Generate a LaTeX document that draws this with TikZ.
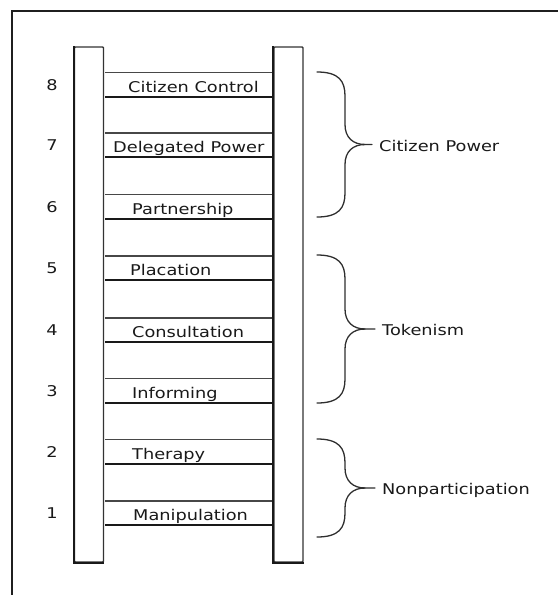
\documentclass[tikz,border=0pt]{standalone}
\usepackage{fontspec}
\setmainfont{DejaVu Sans}
\newcommand\wtxt[1]{\scalebox{1.2}[1]{#1}}
\begin{document}
\begin{tikzpicture}[x=1pt,y=-1pt,
  lab/.style={font=\fontsize{14.8}{16}\selectfont, text=black!90, inner sep=0pt, anchor=base west},
  num/.style={font=\fontsize{14.8}{16}\selectfont, text=black!90, inner sep=0pt, anchor=base},
  rail/.style={draw=black!80, line width=1.4pt, fill=white, rounded corners=0.8pt, inner sep=0pt, minimum width=29pt, minimum height=515pt},
  rungtop/.style={draw=black!72, line width=1.5pt},
  rungbot/.style={draw=black!90, line width=1.8pt},
  brace/.style={draw=black!82, line width=1.3pt, line cap=round}]
\useasboundingbox (0,0) rectangle (558,595);
\draw[line width=2pt, black!88] (11.5,595) -- (11.5,10.5) -- (558,10.5);
% rails
\node[rail] (lrail) at (89,304.5) {};
\node[rail] (rrail) at (288.5,304.5) {};
\draw[black!90, line width=2.2pt] (lrail.north west) -- (lrail.south west) -- (lrail.south east);
\draw[black!90, line width=2.2pt] (rrail.north west) -- (rrail.south west) -- (rrail.south east);
% rungs
\foreach \c/\n/\t/\lx in {84.5/8/Citizen Control/128, 145/7/Delegated Power/113, 206.5/6/Partnership/132, 268/5/Placation/130, 330/4/Consultation/132, 390.5/3/Informing/132, 451.5/2/Therapy/132, 513/1/Manipulation/133}{
  \coordinate (a\n) at (0,\c-12.2);
  \coordinate (b\n) at (0,\c+12.2);
  \draw[rungtop] ([xshift=1pt]lrail.east |- a\n) -- ([xshift=-1pt]rrail.west |- a\n);
  \draw[rungbot] ([xshift=1pt]lrail.east |- b\n) -- ([xshift=-1pt]rrail.west |- b\n);
  \node[lab] (t\n) at (\lx,\c+7.5) {\wtxt{\t}};
  \node[num] (n\n) at (52,\c+5.5) {\wtxt{\n}};
}
% braces
\newcommand\ladderbrace[5]{%
  \pgfmathsetmacro\mid{(#1+#2)/2}%
  \draw[brace] (317,#1) .. controls (339,#1) and (345,#1+9) .. (345,#1+24)
    -- (345,\mid-20) .. controls (345,\mid-7) and (353,\mid) .. (365,\mid) -- (#3,\mid);
  \draw[brace] (317,#2) .. controls (339,#2) and (345,#2-9) .. (345,#2-24)
    -- (345,\mid+20) .. controls (345,\mid+7) and (353,\mid) .. (365,\mid);
  \node[lab] (#5) at (#3+7,\mid+6.5) {\wtxt{#4}};
}
\ladderbrace{72}{217}{372}{Citizen Power}{cp}
\ladderbrace{255}{403}{375}{Tokenism}{tk}
\ladderbrace{439}{537}{375}{Nonparticipation}{np}
\end{tikzpicture}
\end{document}
